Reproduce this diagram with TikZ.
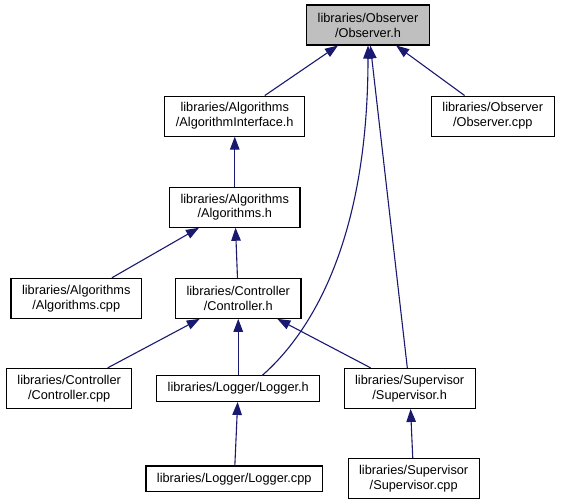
\documentclass[tikz,border=0pt]{standalone}
\usepackage{fontspec}
\setmainfont{Liberation Sans}
\usetikzlibrary{positioning,arrows.meta,calc}
\definecolor{EdgeBlue}{RGB}{25,25,112}
\definecolor{RootGray}{RGB}{191,191,191}
\tikzset{
  filebox/.style={draw=black,fill=white,line width=1.1bp,align=center,
    inner xsep=11bp,inner ysep=0pt,minimum height=40bp,
    font=\fontsize{12.8}{15}\selectfont},
  rootbox/.style={filebox,fill=RootGray},
  linebox/.style={filebox,minimum height=25.5bp},
  incl/.style={{Triangle[length=13bp,width=9.5bp]}-,line width=1.1bp,draw=EdgeBlue}
}
\begin{document}
\begin{tikzpicture}[x=1bp,y=1bp]
  \useasboundingbox (0,0) rectangle (561,-499);
  \node[rootbox] (obsh) at (368,-25) {libraries/Observer\\/Observer.h};
  \node[filebox,below left=50bp and 1bp of obsh] (aifh) {libraries/Algorithms\\/AlgorithmInterface.h};
  \node[filebox,below right=50bp and 1bp of obsh] (obscpp) {libraries/Observer\\/Observer.cpp};
  \node[filebox,below=50bp of aifh] (algh) {libraries/Algorithms\\/Algorithms.h};
  \node[filebox,below left=50bp and 27bp of algh] (algcpp) {libraries/Algorithms\\/Algorithms.cpp};
  \node[filebox,below=50bp of algh,xshift=3.5bp] (ctrlh) {libraries/Controller\\/Controller.h};
  \node[filebox,below left=49bp and 42.5bp of ctrlh] (ctrlcpp) {libraries/Controller\\/Controller.cpp};
  \node[linebox,below=56.5bp of ctrlh] (logh) {libraries/Logger/Logger.h};
  \node[filebox,below right=49bp and 42bp of ctrlh] (suph) {libraries/Supervisor\\/Supervisor.h};
  \node[linebox,below=63.5bp of logh,xshift=-4bp] (logcpp) {libraries/Logger/Logger.cpp};
  \node[filebox,below=49bp of suph,xshift=4bp] (supcpp) {libraries/Supervisor\\/Supervisor.cpp};
  \draw[incl] (obsh) -- (aifh);
  \draw[incl] (obsh) -- (obscpp);
  \draw[incl] (obsh) -- (suph);
  \draw[incl] (obsh.south) .. controls (368,-250) and (305,-338) .. ([xshift=24bp]logh.north);
  \draw[incl] (aifh) -- (algh);
  \draw[incl] (algh) -- (algcpp);
  \draw[incl] (algh) -- (ctrlh);
  \draw[incl] (ctrlh) -- (ctrlcpp);
  \draw[incl] (ctrlh) -- (logh);
  \draw[incl] (ctrlh) -- (suph);
  \draw[incl] (logh) -- (logcpp);
  \draw[incl] (suph) -- (supcpp);
\end{tikzpicture}
\end{document}
